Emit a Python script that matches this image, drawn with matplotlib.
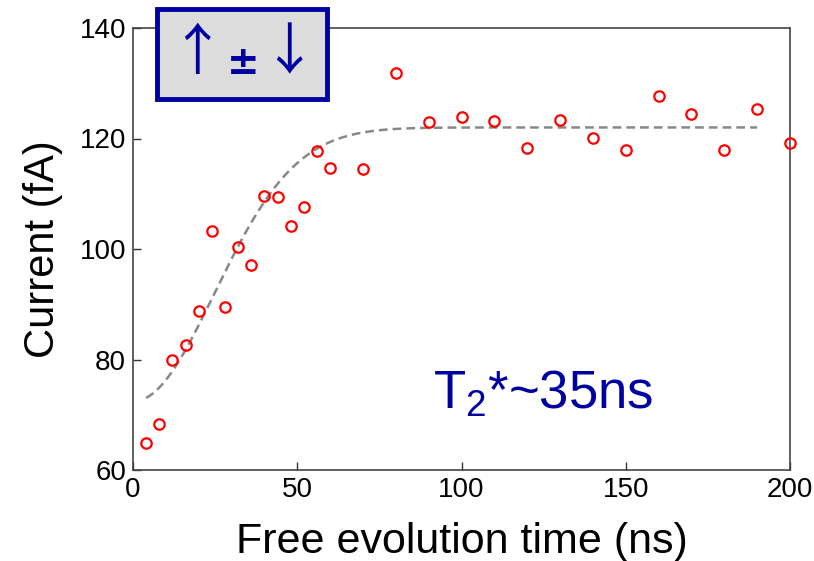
import numpy as np
import matplotlib
matplotlib.use('Agg')
import matplotlib.pyplot as plt
from matplotlib.patches import Rectangle

plt.rcParams['font.family'] = ['Liberation Sans', 'DejaVu Sans']
plt.rcParams['mathtext.fontset'] = 'custom'
plt.rcParams['mathtext.rm'] = 'Liberation Sans'
plt.rcParams['mathtext.it'] = 'Liberation Sans'
plt.rcParams['mathtext.default'] = 'regular'

# Measured current vs free evolution time
time_ns = [4, 8, 12, 16, 20, 24, 28, 32, 36, 40, 44, 48, 52, 56, 60,
           70, 80, 90, 100, 110, 120, 130, 140, 150, 160, 170, 180, 190, 200]
current_fA = [64.9, 68.3, 79.9, 82.6, 88.8, 103.3, 89.5, 100.4, 97.1, 109.6,
              109.4, 104.2, 107.6, 117.7, 114.7, 114.5, 131.9, 123.0, 123.9,
              123.2, 118.3, 123.3, 120.1, 117.9, 127.7, 124.4, 117.9, 125.3, 119.2]

# Gaussian dephasing fit parameters
t2_star = 35.0
fit_plateau = 122.0
fit_depth = 49.6
fit_range = (4, 190)

navy = '#0000a0'

fig = plt.figure(figsize=(8.14, 5.61), dpi=100)
ax = fig.add_axes([133/814, 1 - 470/561, 657/814, 442/561])

t_fit = np.linspace(fit_range[0], fit_range[1], 400)
y_fit = fit_plateau - fit_depth * np.exp(-(t_fit / t2_star) ** 2)
ax.plot(t_fit, y_fit, linestyle=(0, (3.5, 2.0)), color='#888888', linewidth=1.8, zorder=2)

ax.plot(time_ns, current_fA, 'o', markersize=7.5, markerfacecolor='none',
        markeredgecolor='red', markeredgewidth=1.6, zorder=3, clip_on=False)

ax.set_xlim(0, 200)
ax.set_ylim(60, 140)
ax.set_xticks([0, 50, 100, 150, 200])
ax.set_yticks([60, 80, 100, 120, 140])
ax.tick_params(direction='in', length=6, width=1, labelsize=20, color='#333333', pad=5)
for s in ax.spines.values():
    s.set_color('#444444')
    s.set_linewidth(1.2)

ax.set_xlabel('Free evolution time (ns)', fontsize=31, labelpad=14)
ax.set_ylabel('Current (fA)', fontsize=30, labelpad=12)

ax.text(0.456, 0.14, 'T$_2$*~35ns', transform=ax.transAxes, fontsize=38,
        color=navy, ha='left', va='baseline')

# Spin state label box
box = Rectangle((157/814, 1 - 99/561), 170/814, 90/561, transform=fig.transFigure,
                facecolor='#dcdcdc', edgecolor=navy, linewidth=3.5, zorder=5)
fig.add_artist(box)
arrow_font = ['Noto Sans CJK JP', 'DejaVu Sans']
fig.text(197/814, 1 - 54/561, '\u2191', fontsize=40, color=navy, family=arrow_font,
         ha='center', va='center', zorder=6)
fig.text(243/814, 1 - 63/561, '\u00b1', fontsize=28, color=navy, family='DejaVu Sans',
         weight='bold', ha='center', va='center', zorder=6)
fig.text(289/814, 1 - 54/561, '\u2193', fontsize=40, color=navy, family=arrow_font,
         ha='center', va='center', zorder=6)

fig.savefig('out.png', dpi=100)
